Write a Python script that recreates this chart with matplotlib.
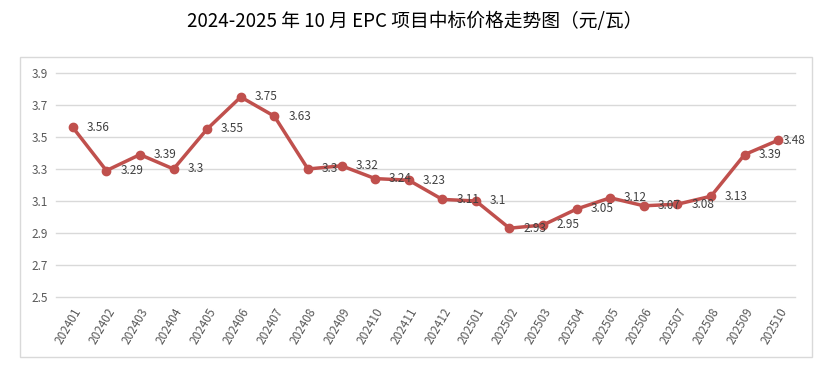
import matplotlib
matplotlib.use("Agg")
import matplotlib.pyplot as plt
from matplotlib.patches import Rectangle

plt.rcParams["font.family"] = ["Noto Sans CJK SC", "DejaVu Sans"]

months = ["202401", "202402", "202403", "202404", "202405", "202406", "202407",
          "202408", "202409", "202410", "202411", "202412", "202501", "202502",
          "202503", "202504", "202505", "202506", "202507", "202508", "202509",
          "202510"]
prices = [3.56, 3.29, 3.39, 3.30, 3.55, 3.75, 3.63, 3.30, 3.32, 3.24, 3.23,
          3.11, 3.10, 2.93, 2.95, 3.05, 3.12, 3.07, 3.08, 3.13, 3.39, 3.48]
labels = ["3.56", "3.29", "3.39", "3.3", "3.55", "3.75", "3.63", "3.3", "3.32",
          "3.24", "3.23", "3.11", "3.1", "2.93", "2.95", "3.05", "3.12", "3.07",
          "3.08", "3.13", "3.39", "3.48"]
yticks = [2.5, 2.7, 2.9, 3.1, 3.3, 3.5, 3.7, 3.9]

W, H = 830, 375
fig = plt.figure(figsize=(W / 100, H / 100), dpi=100)
fig.patches.append(Rectangle((20 / W, 1 - 357 / H), 792 / W, 300 / H,
                             transform=fig.transFigure, fill=False,
                             edgecolor="#d9d9d9", linewidth=1))

ax = fig.add_axes([56 / W, 1 - 297 / H, 739 / W, 224 / H])
x = list(range(len(months)))
ax.plot(x, prices, color="#c0504d", linewidth=2.5, marker="o", markersize=6,
        zorder=3)
for xi, yi, lab in zip(x, prices, labels):
    # last label sits tight against the point so it stays inside the frame
    dx = 3 if xi == x[-1] else 10
    ax.annotate(lab, (xi, yi), xytext=(dx, 0), textcoords="offset points",
                ha="left", va="center", fontsize=8.5, color="#404040", zorder=4)

ax.set_xlim(-0.5, len(months) - 0.5)
ax.set_ylim(2.5, 3.9)
ax.set_yticks(yticks)
ax.set_yticklabels([f"{v:.1f}" for v in yticks])
ax.set_xticks(x)
ax.set_xticklabels(months, rotation=60, ha="right", rotation_mode="anchor")
ax.grid(axis="y", color="#d9d9d9", linewidth=1)
for gl in ax.get_ygridlines():
    gl.set_clip_on(False)
ax.set_axisbelow(True)
for s in ax.spines.values():
    s.set_visible(False)
ax.tick_params(length=0, labelsize=8.5, colors="#595959", pad=6)

fig.text(0.5, 1 - 22 / H, "2024-2025 年 10 月 EPC 项目中标价格走势图（元/瓦）",
         ha="center", va="center", fontsize=13.5, color="black")

fig.savefig("out.png", dpi=100)
